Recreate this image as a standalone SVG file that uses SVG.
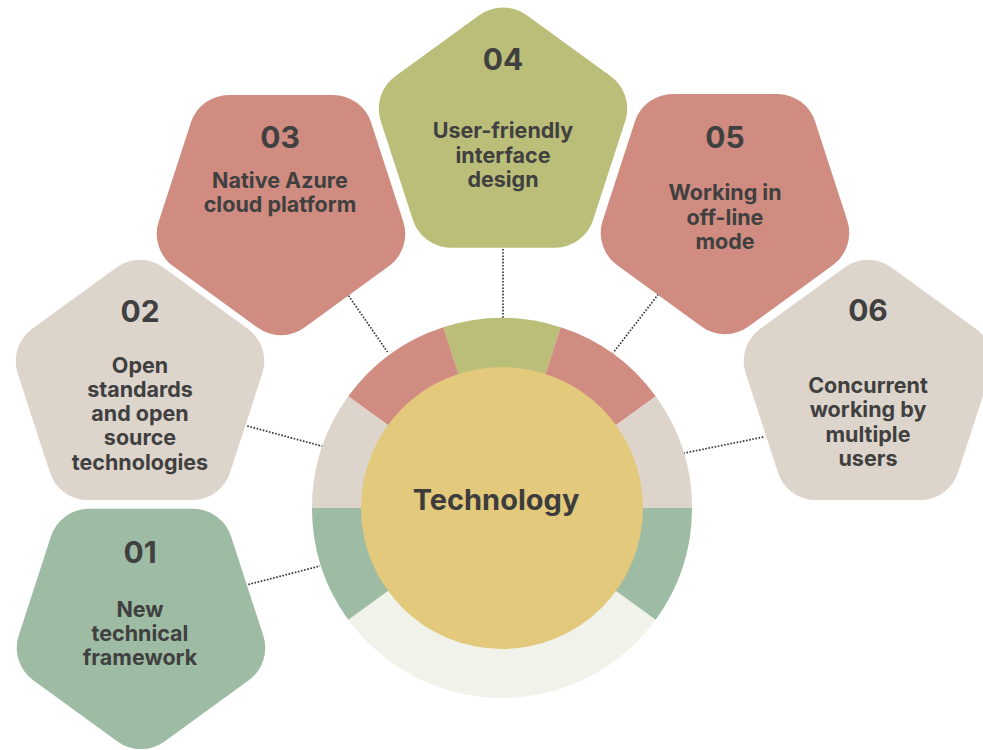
<svg xmlns="http://www.w3.org/2000/svg" xmlns:xlink="http://www.w3.org/1999/xlink" width="983" height="750" viewBox="0 0 983 750">
<style>
  .num { font-family: Inter, "Liberation Sans", sans-serif; font-weight: 700; font-size: 30px; fill: #404040; text-anchor: middle; }
  .lbl { font-family: Inter, "Liberation Sans", sans-serif; font-weight: 700; font-size: 21.5px; fill: #404040; text-anchor: middle; }
  .ctr { font-family: Inter, "Liberation Sans", sans-serif; font-weight: 700; font-size: 29px; fill: #3d3d3d; text-anchor: middle; }
  .dot { stroke: #333333; stroke-width: 1.7; stroke-dasharray: 1.6 1.6; fill: none; }
  .green { fill: #9EBBA3; }
  .beige { fill: #DDD5CC; }
  .red { fill: #D08C80; }
  .olive { fill: #BBBE78; }
</style>
<defs>
  <path id="pent" d="M 23.51,-120.92 L 107.74,-59.72 A 40 40 0 0 1 122.27,-15.00 L 90.09,84.00 A 40 40 0 0 1 52.05,111.64 L -52.05,111.64 A 40 40 0 0 1 -90.09,84.00 L -122.27,-15.00 A 40 40 0 0 1 -107.74,-59.72 L -23.51,-120.92 A 40 40 0 0 1 23.51,-120.92 Z"/>
</defs>
<rect width="983" height="750" fill="#ffffff"/>

<g id="connectors">
  <line class="dot" x1="248.3" y1="584.5" x2="320" y2="566"/>
  <line class="dot" x1="247.3" y1="426" x2="323.3" y2="446.5"/>
  <line class="dot" x1="346.7" y1="293" x2="387.5" y2="352"/>
  <line class="dot" x1="503" y1="249" x2="503" y2="318"/>
  <line class="dot" x1="658.3" y1="294.3" x2="613.3" y2="352.7"/>
  <line class="dot" x1="683.3" y1="453.3" x2="765" y2="436.7"/>
</g>

<g id="hub">
  <circle cx="502" cy="508" r="190" fill="#F1F2EA"/>
  <path class="olive" d="M502,508 L443.29,327.30 A190 190 0 0 1 560.71,327.30 Z"/>
  <path class="red" d="M502,508 L560.71,327.30 A190 190 0 0 1 655.71,396.32 Z"/>
  <path class="red" d="M502,508 L348.29,396.32 A190 190 0 0 1 443.29,327.30 Z"/>
  <path class="beige" d="M502,508 L655.71,396.32 A190 190 0 0 1 692,508 Z"/>
  <path class="beige" d="M502,508 L312,508 A190 190 0 0 1 348.29,396.32 Z"/>
  <path class="green" d="M502,508 L692,508 A190 190 0 0 1 655.71,619.68 Z"/>
  <path class="green" d="M502,508 L348.29,619.68 A190 190 0 0 1 312,508 Z"/>
  <circle cx="502" cy="508" r="141" fill="#E3C97B"/>
  <text class="ctr" x="496" y="510">Technology</text>
</g>

<g id="node01">
  <use xlink:href="#pent" class="green" transform="translate(141,620.5) scale(1,-1)"/>
  <text class="num" x="140" y="563">01</text>
  <text class="lbl" x="140" y="617">New</text>
  <text class="lbl" x="140" y="641">technical</text>
  <text class="lbl" x="140" y="665">framework</text>
</g>

<g id="node02">
  <use xlink:href="#pent" class="beige" transform="translate(140,388.4)"/>
  <text class="num" x="140" y="321.7">02</text>
  <text class="lbl" x="140" y="372.5">Open</text>
  <text class="lbl" x="140" y="396.8">standards</text>
  <text class="lbl" x="140" y="421.1">and open</text>
  <text class="lbl" x="140" y="445.4">source</text>
  <text class="lbl" x="140" y="469.7">technologies</text>
</g>

<g id="node03">
  <use xlink:href="#pent" class="red" transform="translate(281,206.6) scale(1,-1)"/>
  <text class="num" x="280" y="148">03</text>
  <text class="lbl" x="280" y="188">Native Azure</text>
  <text class="lbl" x="280" y="212">cloud platform</text>
</g>

<g id="node04">
  <use xlink:href="#pent" class="olive" transform="translate(503,136)"/>
  <text class="num" x="503" y="70">04</text>
  <text class="lbl" x="503" y="138">User-friendly</text>
  <text class="lbl" x="503" y="162.5">interface</text>
  <text class="lbl" x="503" y="187">design</text>
</g>

<g id="node05">
  <use xlink:href="#pent" class="red" transform="translate(725,205.6) scale(1,-1)"/>
  <text class="num" x="725" y="148">05</text>
  <text class="lbl" x="725" y="200">Working in</text>
  <text class="lbl" x="725" y="224.5">off-line</text>
  <text class="lbl" x="725" y="249">mode</text>
</g>

<g id="node06">
  <use xlink:href="#pent" class="beige" transform="translate(868,388.4)"/>
  <text class="num" x="868" y="320.7">06</text>
  <text class="lbl" x="868" y="393">Concurrent</text>
  <text class="lbl" x="868" y="417">working by</text>
  <text class="lbl" x="868" y="441.5">multiple</text>
  <text class="lbl" x="868" y="466">users</text>
</g>
</svg>
